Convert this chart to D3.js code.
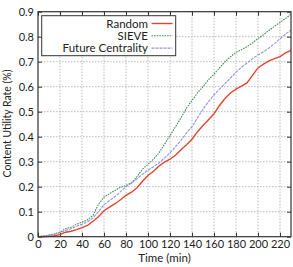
<!DOCTYPE html>
<html><head><meta charset="utf-8">
<script src="https://cdn.jsdelivr.net/npm/d3@7"></script>
<style>body{margin:0;background:#fff}svg{display:block}text{font-family:Lato,"Open Sans",sans-serif;fill:#222}</style>
</head><body><svg id="c" width="293" height="267"></svg>
<script>
const times = d3.range(0, 231, 5);
const randomVals = [0,0,0.002,0.004,0.008,0.018,0.022,0.028,0.036,0.045,0.062,0.08,0.104,0.118,0.132,0.148,0.165,0.178,0.196,0.222,0.245,0.262,0.283,0.298,0.31,0.326,0.348,0.368,0.39,0.42,0.445,0.468,0.492,0.525,0.553,0.575,0.59,0.602,0.615,0.645,0.675,0.69,0.703,0.712,0.72,0.735,0.745];
const sieveVals = [0,0.003,0.007,0.012,0.018,0.032,0.038,0.05,0.058,0.068,0.085,0.13,0.158,0.172,0.185,0.198,0.205,0.215,0.24,0.27,0.29,0.31,0.335,0.37,0.405,0.44,0.475,0.515,0.545,0.575,0.6,0.628,0.65,0.675,0.7,0.72,0.737,0.748,0.76,0.775,0.793,0.808,0.825,0.842,0.857,0.873,0.89];
const futureVals = [0,0.002,0.005,0.01,0.016,0.025,0.032,0.042,0.05,0.06,0.075,0.1,0.128,0.145,0.16,0.18,0.2,0.215,0.232,0.25,0.266,0.28,0.295,0.315,0.335,0.36,0.385,0.415,0.44,0.475,0.51,0.54,0.568,0.59,0.612,0.635,0.658,0.678,0.695,0.712,0.727,0.74,0.755,0.772,0.792,0.81,0.827];
const seriesNames = ["Random","SIEVE","Future Centrality"];
const xTicks = [0,20,40,60,80,100,120,140,160,180,200,220];
const yTicks = [0,0.1,0.2,0.3,0.4,0.5,0.6,0.7,0.8,0.9];

const svg = d3.select("#c");
const L=38, R=291, T=11.7, B=236.7;
const x = d3.scaleLinear().domain([0,230]).range([L,R]);
const y = d3.scaleLinear().domain([0,0.9]).range([B,T]);

// grid
const g = svg.append("g");
g.selectAll(".vg").data(xTicks.slice(1)).enter().append("line")
 .attr("x1",d=>x(d)).attr("x2",d=>x(d)).attr("y1",T).attr("y2",B)
 .attr("stroke","#aaa").attr("stroke-width",0.8).attr("stroke-dasharray","1.5,1.5");
g.selectAll(".hg").data(yTicks.slice(1,-1)).enter().append("line")
 .attr("x1",L).attr("x2",R).attr("y1",d=>y(d)).attr("y2",d=>y(d))
 .attr("stroke","#aaa").attr("stroke-width",0.8).attr("stroke-dasharray","1.5,1.5");

// axes
const xa = svg.append("g").attr("transform",`translate(0,${B})`)
 .call(d3.axisBottom(x).tickValues(xTicks).tickSize(-4).tickPadding(4).tickFormat(d3.format("d")));
const xt = svg.append("g").attr("transform",`translate(0,${T})`)
 .call(d3.axisTop(x).tickValues(xTicks).tickSize(-4).tickFormat(""));
const ya = svg.append("g").attr("transform",`translate(${L},0)`)
 .call(d3.axisLeft(y).tickValues(yTicks).tickSize(-4).tickPadding(4).tickFormat(d=>d===0?"0":d3.format(".1f")(d)));
const yr = svg.append("g").attr("transform",`translate(${R},0)`)
 .call(d3.axisRight(y).tickValues(yTicks).tickSize(-4).tickFormat(""));
[xa,xt,ya,yr].forEach(a=>{a.select(".domain").remove();a.selectAll("line").attr("stroke","#333");a.selectAll("text").attr("font-size",11).attr("fill","#222").style("font-family","Lato,'Open Sans',sans-serif");});

// lines
const mk = vals => times.map((t,i)=>[t,vals[i]]);
const line = d3.line().x(d=>x(d[0])).y(d=>y(d[1]));
const styles = [
 {vals:randomVals,color:"#e2452e",dash:null,w:1.4},
 {vals:sieveVals,color:"#3f8f55",dash:"1.6,1",w:1.1},
 {vals:futureVals,color:"#9393e0",dash:"3,1",w:1.1}
];
styles.forEach(s=>{
 svg.append("path").datum(mk(s.vals)).attr("d",line).attr("fill","none")
  .attr("stroke",s.color).attr("stroke-width",s.w).attr("stroke-dasharray",s.dash);
});

// frame
svg.append("rect").attr("x",L).attr("y",T).attr("width",R-L).attr("height",B-T)
 .attr("fill","none").attr("stroke","#333").attr("stroke-width",1.2);

// legend
const lg = svg.append("g");
lg.append("rect").attr("x",41.7).attr("y",15.7).attr("width",134).attr("height",40)
 .attr("fill","#fff").attr("stroke","#333").attr("stroke-width",1);
seriesNames.forEach((n,i)=>{
 const yy = 23.5 + i*12.3;
 lg.append("text").attr("x",148).attr("y",yy+4).attr("text-anchor","end").attr("font-size",11.5).text(n);
 lg.append("line").attr("x1",151.5).attr("x2",172.5).attr("y1",yy).attr("y2",yy)
  .attr("stroke",styles[i].color).attr("stroke-width",styles[i].w).attr("stroke-dasharray",styles[i].dash);
});

// axis labels
svg.append("text").attr("x",(L+R)/2).attr("y",262).attr("text-anchor","middle").attr("font-size",11.5).text("Time (min)");
svg.append("text").attr("transform",`translate(11,123.5) rotate(-90)`).attr("text-anchor","middle").attr("font-size",11)
 .attr("textLength",108).attr("lengthAdjust","spacingAndGlyphs").text("Content Utility Rate (%)");
</script></body></html>
